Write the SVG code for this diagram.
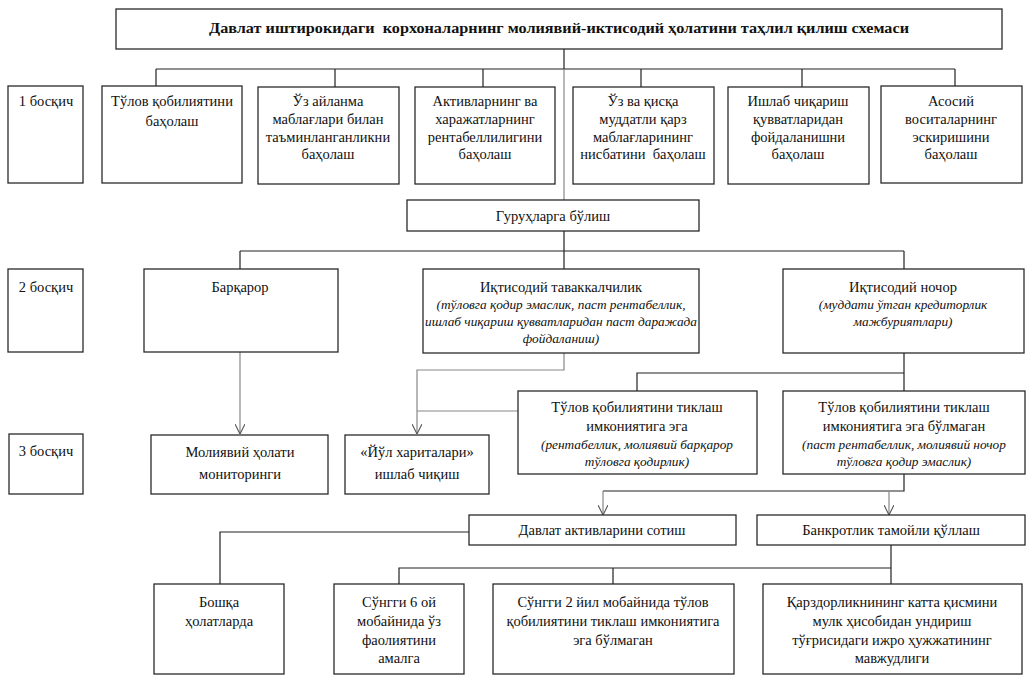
<svg xmlns="http://www.w3.org/2000/svg" width="1032" height="684" viewBox="0 0 1032 684">
<style>
.b{fill:#fff;stroke:#2a2a2a;stroke-width:1.3}
.t{font-family:'Times New Roman','Liberation Serif','DejaVu Serif',serif;font-size:14.5px;fill:#111;text-anchor:middle}
.i{font-style:italic;font-size:13.3px}
.h{font-weight:bold;font-size:15px}
.c{fill:none;stroke:#222;stroke-width:1.2}
.g{fill:none;stroke:#888;stroke-width:1.2}
</style>
<defs>
<marker id="ar" viewBox="0 0 10 10" refX="10" refY="5" markerWidth="10" markerHeight="10" markerUnits="userSpaceOnUse" orient="auto">
<path d="M0,0 L10,5 L0,10" fill="none" stroke="#555" stroke-width="1.1"/>
</marker>
</defs>
<rect width="1032" height="684" fill="#fff"/>
<g id="connectors">
<path class="c" d="M564,49 V69 M156,69 H955 M156,69 V86 M335,69 V87 M483,69 V87 M641,69 V87 M802,69 V87 M955,69 V86"/>
<path class="g" d="M564,69 V200"/>
<path class="c" d="M564,231 V251 M240,251 H904 M240,251 V269 M564,251 V269 M904,251 V269"/>
<path class="g" d="M240,352 V434" marker-end="url(#ar)"/>
<path class="g" d="M564,353 V370 H417 V434" marker-end="url(#ar)"/>
<path class="g" d="M417,411 H518"/>
<path class="c" d="M904,353 V373 H637 V391 M904,373 V391"/>
<path class="c" d="M904,474 V491 H603"/>
<path class="g" d="M603,491 V515" marker-end="url(#ar)"/>
<path class="g" d="M889,491 V515" marker-end="url(#ar)"/>
<path class="c" d="M469,532 H220 V584"/>
<path class="c" d="M891,545 V568 H399 V584 M613,568 V584 M891,568 V584"/>
</g>
<g id="title"><rect class="b" x="116" y="9" width="886" height="40"/><text class="t h" x="559" y="33" textLength="700" lengthAdjust="spacingAndGlyphs" xml:space="preserve">Давлат иштирокидаги  корхоналарнинг молиявий-иктисодий ҳолатини таҳлил қилиш схемаси</text></g>
<g id="stage1"><rect class="b" x="8" y="86" width="75" height="97"/><text class="t" x="46" y="106">1 босқич</text></g>
<g id="s1a"><rect class="b" x="102" y="86" width="140" height="97"/><text class="t" x="172" y="106">Тўлов қобилиятини</text><text class="t" x="172" y="126">баҳолаш</text></g>
<g id="s1b"><rect class="b" x="258" y="87" width="141" height="97"/><text class="t" x="328" y="106">Ўз айланма</text><text class="t" x="328" y="124">маблағлари билан</text><text class="t" x="328" y="142">таъминланганликни</text><text class="t" x="328" y="159">баҳолаш</text></g>
<g id="s1c"><rect class="b" x="415" y="87" width="140" height="97"/><text class="t" x="485" y="106">Активларнинг ва</text><text class="t" x="485" y="124">харажатларнинг</text><text class="t" x="485" y="142">рентабеллилигини</text><text class="t" x="485" y="159">баҳолаш</text></g>
<g id="s1d"><rect class="b" x="573" y="87" width="141" height="97"/><text class="t" x="643" y="106">Ўз ва қисқа</text><text class="t" x="643" y="124">муддатли қарз</text><text class="t" x="643" y="142">маблағларининг</text><text class="t" x="643" y="159" xml:space="preserve">нисбатини  баҳолаш</text></g>
<g id="s1e"><rect class="b" x="728" y="87" width="141" height="97"/><text class="t" x="798" y="106">Ишлаб чиқариш</text><text class="t" x="798" y="124">қувватларидан</text><text class="t" x="798" y="142">фойдаланишни</text><text class="t" x="798" y="159">баҳолаш</text></g>
<g id="s1f"><rect class="b" x="881" y="86" width="141" height="97"/><text class="t" x="951" y="106">Асосий</text><text class="t" x="951" y="124">воситаларнинг</text><text class="t" x="951" y="142">эскиришини</text><text class="t" x="951" y="159">баҳолаш</text></g>
<g id="groups"><rect class="b" x="407" y="200" width="292" height="31"/><text class="t" x="553" y="221">Гуруҳларга бўлиш</text></g>
<g id="stage2"><rect class="b" x="8" y="269" width="75" height="83"/><text class="t" x="46" y="292">2 босқич</text></g>
<g id="stable"><rect class="b" x="144" y="269" width="194" height="83"/><text class="t" x="240" y="292">Барқарор</text></g>
<g id="risk"><rect class="b" x="423" y="269" width="276" height="84"/><text class="t" x="561" y="292">Иқтисодий таваккалчилик</text><text class="t i" x="561" y="309">(тўловга қодир эмаслик, паст рентабеллик,</text><text class="t i" x="561" y="326">ишлаб чиқариш қувватларидан паст даражада</text><text class="t i" x="561" y="343">фойдаланиш)</text></g>
<g id="insolvent"><rect class="b" x="783" y="269" width="241" height="84"/><text class="t" x="903" y="292">Иқтисодий ночор</text><text class="t i" x="903" y="309">(муддати ўтган кредиторлик</text><text class="t i" x="903" y="326">мажбуриятлари)</text></g>
<g id="stage3"><rect class="b" x="9" y="434" width="74" height="60"/><text class="t" x="46" y="456">3 босқич</text></g>
<g id="monitor"><rect class="b" x="151" y="435" width="177" height="59"/><text class="t" x="240" y="457">Молиявий ҳолати</text><text class="t" x="240" y="479">мониторинги</text></g>
<g id="roadmap"><rect class="b" x="345" y="435" width="144" height="59"/><text class="t" x="417" y="457">«Йўл хариталари»</text><text class="t" x="417" y="479">ишлаб чиқиш</text></g>
<g id="canrestore"><rect class="b" x="518" y="391" width="239" height="83"/><text class="t" x="637" y="412">Тўлов қобилиятини тиклаш</text><text class="t" x="637" y="431">имкониятига эга</text><text class="t i" x="637" y="449">(рентабеллик, молиявий барқарор</text><text class="t i" x="637" y="466">тўловга қодирлик)</text></g>
<g id="cannotrestore"><rect class="b" x="783" y="391" width="242" height="83"/><text class="t" x="904" y="412">Тўлов қобилиятини тиклаш</text><text class="t" x="904" y="431">имкониятига эга бўлмаган</text><text class="t i" x="904" y="449">(паст рентабеллик, молиявий ночор</text><text class="t i" x="904" y="466">тўловга қодир эмаслик)</text></g>
<g id="sell"><rect class="b" x="469" y="515" width="267" height="30"/><text class="t" x="602" y="535">Давлат активларини сотиш</text></g>
<g id="bankrupt"><rect class="b" x="757" y="515" width="268" height="30"/><text class="t" x="891" y="535">Банкротлик тамойли қўллаш</text></g>
<g id="other"><rect class="b" x="154" y="584" width="130" height="90"/><text class="t" x="219" y="607">Бошқа</text><text class="t" x="219" y="626">ҳолатларда</text></g>
<g id="six"><rect class="b" x="334" y="584" width="130" height="90"/><text class="t" x="399" y="607">Сўнгги 6 ой</text><text class="t" x="399" y="626">мобайнида ўз</text><text class="t" x="399" y="645">фаолиятини</text><text class="t" x="399" y="663">амалга</text></g>
<g id="two"><rect class="b" x="493" y="584" width="241" height="90"/><text class="t" x="613" y="607">Сўнгги 2 йил мобайнида тўлов</text><text class="t" x="613" y="626">қобилиятини тиклаш имкониятига</text><text class="t" x="613" y="645">эга бўлмаган</text></g>
<g id="debt"><rect class="b" x="763" y="584" width="259" height="90"/><text class="t" x="892" y="607">Қарздорликнининг катта қисмини</text><text class="t" x="892" y="626">мулк ҳисобидан ундириш</text><text class="t" x="892" y="645">тўғрисидаги ижро ҳужжатининг</text><text class="t" x="892" y="663">мавжудлиги</text></g>
</svg>
